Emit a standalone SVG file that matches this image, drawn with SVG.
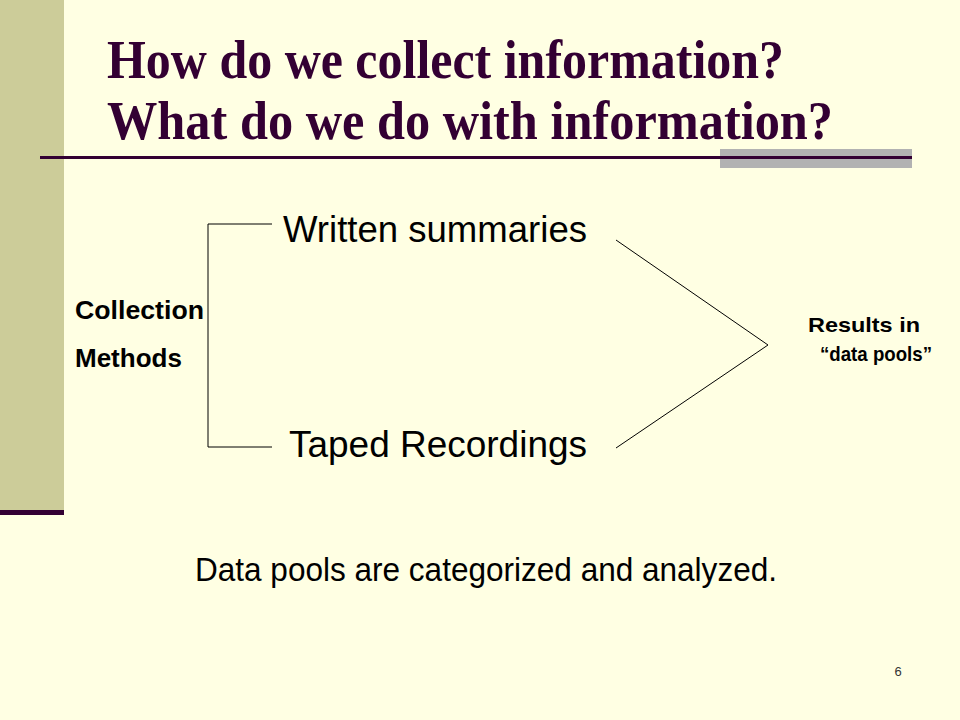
<svg xmlns="http://www.w3.org/2000/svg" width="960" height="720" viewBox="0 0 960 720">
<style>
.title{font-family:"Liberation Serif","Times New Roman",serif;font-weight:bold;font-size:54px;fill:#330033}
.big{font-family:"Liberation Sans",Arial,sans-serif;font-size:36px;fill:#000}
.lbl{font-family:"Liberation Sans",Arial,sans-serif;font-weight:bold;font-size:26px;fill:#000}
.res{font-family:"Liberation Sans",Arial,sans-serif;font-weight:bold;font-size:21px;fill:#000}
.conn{stroke:#000;stroke-width:1;fill:none}
</style>
<rect x="0" y="0" width="960" height="720" fill="#FFFFE3"/>
<rect x="0" y="0" width="64" height="512" fill="#CCCC99"/>
<rect x="0" y="510" width="64" height="5" fill="#330033"/>
<rect x="720" y="149" width="192" height="19" fill="#B2B2B2"/>
<line x1="40" y1="157.5" x2="912" y2="157.5" stroke="#330033" stroke-width="3"/>
<g id="title">
<text class="title" x="107" y="78" textLength="677" lengthAdjust="spacingAndGlyphs">How do we collect information?</text>
<text class="title" x="107" y="139" textLength="726" lengthAdjust="spacingAndGlyphs">What do we do with information?</text>
</g>
<g id="connectors">
<polyline class="conn" points="272,224 208,224 208,447 272,447"/>
<polyline class="conn" points="616,240 768,345 616,448"/>
</g>
<g id="collection">
<text class="lbl" x="75" y="319" textLength="129" lengthAdjust="spacingAndGlyphs">Collection</text>
<text class="lbl" x="75" y="367">Methods</text>
</g>
<g id="written">
<text class="big" x="283" y="242" textLength="304" lengthAdjust="spacingAndGlyphs">Written summaries</text>
</g>
<g id="taped">
<text class="big" x="289" y="457" textLength="298" lengthAdjust="spacingAndGlyphs">Taped Recordings</text>
</g>
<g id="results">
<text class="res" x="808" y="332" textLength="112" lengthAdjust="spacingAndGlyphs">Results in</text>
<text class="res" x="820" y="361" textLength="112" lengthAdjust="spacingAndGlyphs">“data pools”</text>
</g>
<g id="summary">
<text x="195" y="581" font-family="Liberation Sans, Arial, sans-serif" font-size="34" fill="#000" textLength="582" lengthAdjust="spacingAndGlyphs">Data pools are categorized and analyzed.</text>
</g>
<text x="898" y="676" font-family="Liberation Sans, Arial, sans-serif" font-size="13" fill="#333" text-anchor="middle">6</text>
</svg>
